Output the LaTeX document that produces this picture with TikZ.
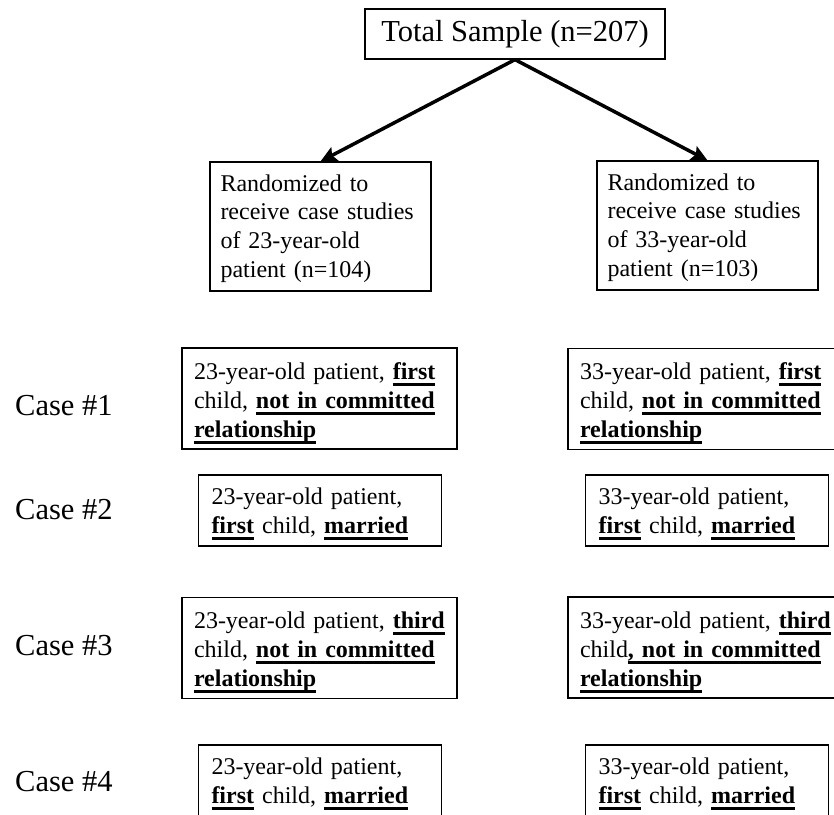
\documentclass[tikz,border=0pt]{standalone}
\usepackage{fontspec}
\setmainfont{Liberation Serif}
\usetikzlibrary{arrows.meta}
\newsavebox{\ulinebox}
\newcommand{\ulbf}[1]{\mbox{\sbox{\ulinebox}{\bfseries #1}\rlap{\rule[-6.5pt]{\wd\ulinebox}{3pt}}\usebox{\ulinebox}}}

\begin{document}
\begin{tikzpicture}[x=1pt, y=-1pt,
    box/.style={draw, line width=1.2pt, inner sep=0pt, align=left},
    bigtext/.style={font=\fontsize{30.5}{36}\selectfont},
    randbox/.style={box, minimum width=221pt, minimum height=129pt, text width=200pt, font=\fontsize{24}{28.7}\selectfont,
        execute at begin node={\rule{0pt}{20.5pt}}},
    widebox/.style={box, minimum width=275pt, minimum height=101pt, text width=251pt, font=\fontsize{24}{29}\selectfont,
        execute at begin node={\rule{0pt}{25.5pt}}},
    narrowbox/.style={box, minimum width=243pt, minimum height=71pt, text width=217pt, font=\fontsize{24}{29}\selectfont,
        execute at begin node={\rule{0pt}{23pt}}},
    caselabel/.style={bigtext, anchor=west, inner sep=0pt},
    branch/.style={line width=3.5pt, -{Stealth[length=16pt, width=15pt, inset=3pt]}}]

    % fixed page, right-hand boxes run off the edge
    \useasboundingbox (0,0) rectangle (834,814);
    \clip (0,0) rectangle (834,814);

    % --- Sample and randomisation ---
    \node[box, bigtext, minimum width=300pt, minimum height=50pt] (total) at (515,34) {Total Sample (n=207)};

    \node[randbox] (rand23) at (320.5,226.5) {Randomized to\\receive case studies\\of 23-year-old\\patient (n=104)};
    \node[randbox] (rand33) at (707.5,225.5) {Randomized to\\receive case studies\\of 33-year-old\\patient (n=103)};

    \draw[branch] (total.south) -- (rand23.north);
    \draw[branch] (total.south) -- (rand33.north);

    % --- Case labels ---
    \foreach \n/\y in {1/406, 2/510, 3/646, 4/782}
        \node[caselabel] (label\n) at (15,\y) {Case \#\n};

    % --- Case studies, 23-year-old ---
    \node[widebox] (young1) at (319.5,398.5) {23-year-old patient, \ulbf{first}\\child, \ulbf{not in committed}\\\ulbf{relationship}};
    \node[narrowbox] (young2) at (320,510.5) {23-year-old patient,\\\ulbf{first} child, \ulbf{married}};
    \node[widebox] (young3) at (319.5,648) {23-year-old patient, \ulbf{third}\\child, \ulbf{not in committed}\\\ulbf{relationship}};
    \node[narrowbox] (young4) at (320,780.5) {23-year-old patient,\\\ulbf{first} child, \ulbf{married}};

    % --- Case studies, 33-year-old ---
    \node[widebox] (old1) at (705.5,399) {33-year-old patient, \ulbf{first}\\child, \ulbf{not in committed}\\\ulbf{relationship}};
    \node[narrowbox] (old2) at (707,510.5) {33-year-old patient,\\\ulbf{first} child, \ulbf{married}};
    \node[widebox] (old3) at (705.5,647.5) {33-year-old patient, \ulbf{third}\\child\ulbf{, not in committed}\\\ulbf{relationship}};
    \node[narrowbox] (old4) at (707,780.5) {33-year-old patient,\\\ulbf{first} child, \ulbf{married}};

\end{tikzpicture}
\end{document}
